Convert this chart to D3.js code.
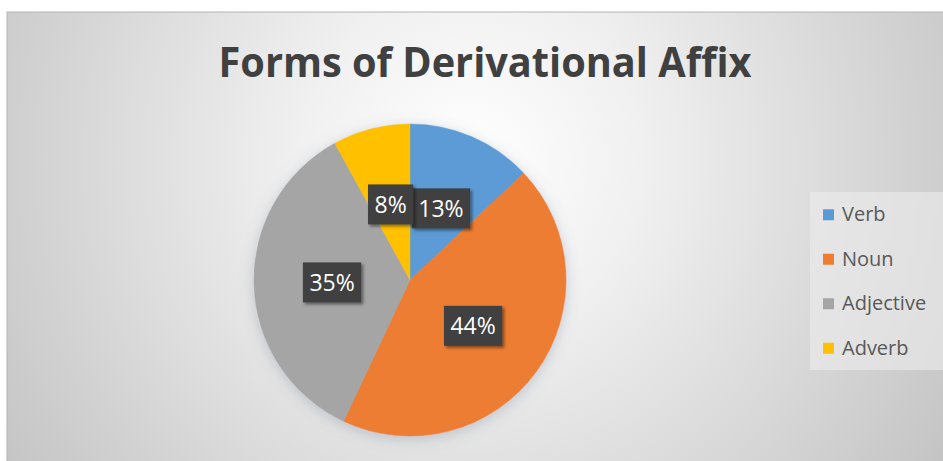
<!DOCTYPE html>
<html>
<head>
<meta charset="utf-8">
<script src="https://cdn.jsdelivr.net/npm/d3@7"></script>
<style>
  body { margin: 0; background: #fff; }
  svg { display: block; }
</style>
</head>
<body>
<svg id="chart" width="943" height="461"></svg>
<script>
"use strict";

// chart data
var categories = ["Verb", "Noun", "Adjective", "Adverb"];
var values = [13, 44, 35, 8];
var colors = ["#5B9BD5", "#ED7D31", "#A5A5A5", "#FFC000"];
var title = "Forms of Derivational Affix";

var width = 943, height = 461;
var cx = 410, cy = 280, radius = 156;

var svg = d3.select("#chart");
var defs = svg.append("defs");

// radial background like the office preset
var bg = defs.append("radialGradient")
  .attr("id", "bg")
  .attr("gradientUnits", "userSpaceOnUse")
  .attr("cx", 470).attr("cy", 160).attr("r", 580);
bg.append("stop").attr("offset", "0").attr("stop-color", "#ffffff");
bg.append("stop").attr("offset", "0.3").attr("stop-color", "#f0f0f0");
bg.append("stop").attr("offset", "1").attr("stop-color", "#c2c2c2");

var pieShadow = defs.append("filter").attr("id", "pieShadow")
  .attr("x", "-20%").attr("y", "-20%").attr("width", "140%").attr("height", "140%");
pieShadow.append("feDropShadow")
  .attr("dx", 0).attr("dy", 3).attr("stdDeviation", 7)
  .attr("flood-color", "#6d7f95").attr("flood-opacity", 0.35);

var boxShadow = defs.append("filter").attr("id", "boxShadow")
  .attr("x", "-30%").attr("y", "-30%").attr("width", "160%").attr("height", "160%");
boxShadow.append("feDropShadow")
  .attr("dx", 2).attr("dy", 2).attr("stdDeviation", 1.5)
  .attr("flood-color", "#000").attr("flood-opacity", 0.45);

// chart area
svg.append("rect")
  .attr("x", 7).attr("y", 12)
  .attr("width", width).attr("height", height)
  .attr("fill", "url(#bg)")
  .attr("stroke", "#b4b4b4")
  .attr("stroke-width", 1);

// title
svg.append("text")
  .attr("x", 485).attr("y", 77)
  .attr("text-anchor", "middle")
  .attr("textLength", 533)
  .attr("lengthAdjust", "spacingAndGlyphs")
  .style("font-family", "'Open Sans', sans-serif")
  .style("font-weight", "bold")
  .style("font-size", "41px")
  .style("fill", "#404040")
  .text(title);

// pie
var data = categories.map(function(c, i) {
  return {name: c, value: values[i], color: colors[i]};
});
var total = d3.sum(values);
var pct = d3.format(".0%");

var pie = d3.pie().sort(null).value(function(d) { return d.value; });
var arc = d3.arc().innerRadius(0).outerRadius(radius);
var labelArc = d3.arc().innerRadius(radius * 0.5).outerRadius(radius * 0.5);
var arcs = pie(data);

var g = svg.append("g").attr("transform", "translate(" + cx + "," + cy + ")");

g.append("g")
  .attr("filter", "url(#pieShadow)")
  .selectAll("path")
  .data(arcs)
  .enter().append("path")
  .attr("d", arc)
  .attr("fill", function(d) { return d.data.color; })
  .attr("stroke", function(d) { return d.data.color; })
  .attr("stroke-width", 0.5);

// data labels: dark boxes
var labels = g.append("g").selectAll("g")
  .data(arcs)
  .enter().append("g")
  .attr("transform", function(d) {
    var c = labelArc.centroid(d);
    return "translate(" + c[0] + "," + c[1] + ")";
  });

labels.append("rect").attr("class", "lbox");
labels.append("text")
  .attr("text-anchor", "middle")
  .attr("dy", "0.36em")
  .style("font-family", "'Open Sans', sans-serif")
  .style("font-size", "23px")
  .style("fill", "#ffffff")
  .text(function(d) { return pct(d.data.value / total); });

labels.each(function() {
  var sel = d3.select(this);
  var w = sel.select("text").node().getComputedTextLength() + 13;
  sel.select("rect")
    .attr("x", -w / 2).attr("y", -20)
    .attr("width", w).attr("height", 40)
    .attr("fill", "#404040")
    .attr("filter", "url(#boxShadow)");
});

// legend
var legendY = d3.scaleBand().domain(categories).range([192, 370]);

svg.append("rect")
  .attr("x", 810).attr("y", 192)
  .attr("width", 133).attr("height", 178)
  .attr("fill", "#ececec")
  .attr("opacity", 0.6);

var legend = svg.append("g").selectAll("g")
  .data(data)
  .enter().append("g")
  .attr("transform", function(d) {
    return "translate(823," + (legendY(d.name) + legendY.bandwidth() / 2) + ")";
  });

legend.append("rect")
  .attr("x", 0).attr("y", -5)
  .attr("width", 11).attr("height", 11)
  .attr("fill", function(d) { return d.color; });

legend.append("text")
  .attr("x", 19).attr("y", 0)
  .attr("dy", "0.36em")
  .style("font-family", "'Open Sans', sans-serif")
  .style("font-size", "20px")
  .style("fill", "#595959")
  .text(function(d) { return d.name; });
</script>
</body>
</html>
